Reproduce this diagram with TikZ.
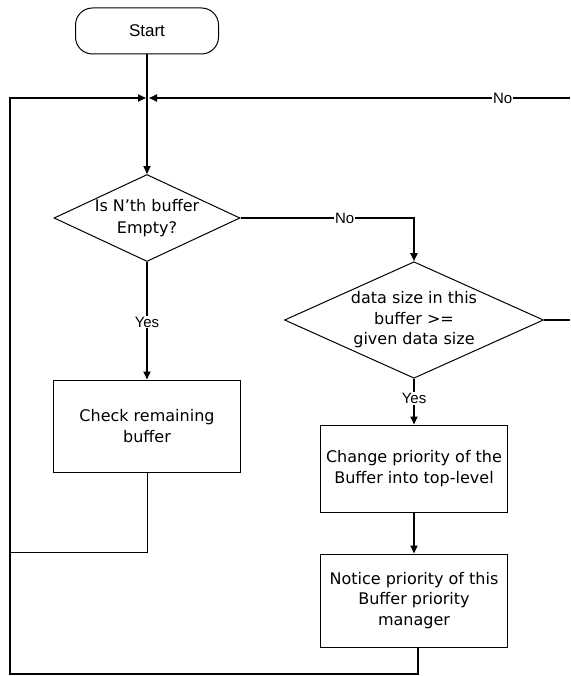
\documentclass[tikz,border=0pt]{standalone}
\usepackage{fontspec}
\setmainfont{DejaVu Sans}
\newfontfamily\arialfont{Liberation Sans}
\usetikzlibrary{shapes.geometric,arrows.meta}
\begin{document}
\begin{tikzpicture}[x=1pt,y=-1pt,
  terminal/.style={draw, line width=1pt, rounded corners=17pt, minimum width=143pt,
    minimum height=46pt, inner sep=0pt, font=\arialfont\fontsize{17}{17}\selectfont},
  process/.style={draw, line width=1pt, minimum width=187pt, inner sep=0pt,
    align=center, font=\fontsize{16}{20.5}\selectfont},
  decision/.style={draw, line width=1pt, diamond, inner sep=0pt, align=center,
    font=\fontsize{16}{20.5}\selectfont},
  flow/.style={line width=1.8pt},
  arrowflow/.style={flow, -{Triangle[length=8pt,width=7pt]}},
  thinflow/.style={line width=1pt},
  lbl/.style={fill=white, inner sep=1pt, font=\arialfont\fontsize{15}{15}\selectfont}
]
\useasboundingbox (0,0) rectangle (570,676);

% nodes
\node[terminal] (start) at (147,31) {Start};
\node[decision, aspect=2.11, minimum width=186pt,
      font=\fontsize{16}{22}\selectfont] (d1) at (147,218)
  {Is N’th buffer\\Empty?};
\node[decision, aspect=2.1, minimum width=259pt] (d2) at (414,320)
  {data size in this\\buffer >=\\given data size};
\node[process, minimum height=92pt] (chk) at (147,426) {Check remaining\\buffer};
\node[process, minimum height=87pt] (chg) at (414,468.5)
  {Change priority of the\\Buffer into top-level};
\node[process, minimum height=93pt] (ntc) at (414,600.5)
  {Notice priority of this\\Buffer priority\\manager};

% junction and loop corners
\coordinate (m) at (147,98);
\coordinate (cornerTL) at (10,98);
\coordinate (cornerBL) at (10,674);
\coordinate (chkL) at (10,552);
\coordinate (rightT) at (570,98);
\coordinate (rightB) at (570,320);

% connectors
\draw[flow] (start.south) -- (m);
\draw[arrowflow] (m) -- (d1.north);
\draw[arrowflow] (d1.south) -- node[lbl, pos=0.51] {Yes} (chk.north);
\draw[arrowflow] (d1.east) -| node[lbl, pos=0.3] {No} (d2.north);
\draw[arrowflow] (d2.south) -- node[lbl, pos=0.43] {Yes} (chg.north);
\draw[arrowflow] (chg.south) -- (ntc.north);
\draw[flow] (d2.east) -- (rightB);
\draw[arrowflow] (rightT) -- node[lbl, pos=0.16] {No} ([xshift=2pt]m);
\draw[thinflow] (chk.south) |- (chkL);
\draw[arrowflow] ([xshift=4pt]ntc.south) |- (cornerBL) -- (cornerTL) -- ([xshift=-1pt]m);
\end{tikzpicture}
\end{document}
